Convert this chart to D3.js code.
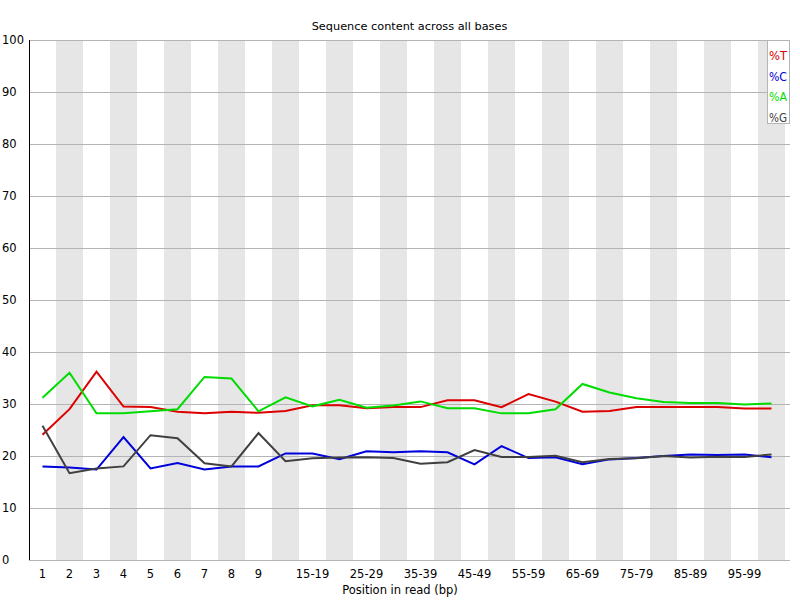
<!DOCTYPE html>
<html>
<head>
<meta charset="utf-8">
<script src="https://cdn.jsdelivr.net/npm/d3@7"></script>
<style>
  body { margin: 0; background: #fff; }
  svg { display: block; font-family: "DejaVu Sans", sans-serif; }
</style>
</head>
<body>
<svg id="chart" width="800" height="600"></svg>
<script>
const positions = ['1', '2', '3', '4', '5', '6', '7', '8', '9',
  '10-14', '15-19', '20-24', '25-29', '30-34', '35-39', '40-44', '45-49',
  '50-54', '55-59', '60-64', '65-69', '70-74', '75-79', '80-84', '85-89',
  '90-94', '95-99', '100-101']

const pctT = [24.1, 29.0, 36.2, 29.5, 29.4, 28.5, 28.2, 28.5, 28.3, 28.65,
  29.75, 29.75, 29.2, 29.4, 29.4, 30.7, 30.7, 29.4, 31.9, 30.45,
  28.5, 28.65, 29.4, 29.4, 29.4, 29.4, 29.15, 29.15]
const pctC = [18.0, 17.8, 17.4, 23.65, 17.6, 18.65, 17.4, 18.0, 18.0, 20.5,
  20.5, 19.4, 20.9, 20.7, 20.9, 20.7, 18.4, 21.9, 19.6, 19.75,
  18.4, 19.35, 19.6, 20.0, 20.3, 20.2, 20.3, 19.75]
const pctA = [31.2, 36.0, 28.2, 28.2, 28.6, 29.0, 35.2, 34.9, 28.6, 31.3,
  29.55, 30.8, 29.3, 29.7, 30.5, 29.2, 29.2, 28.2, 28.2, 29.0,
  33.85, 32.2, 31.1, 30.4, 30.2, 30.2, 29.9, 30.1]
const pctG = [25.8, 16.7, 17.6, 18.0, 24.0, 23.4, 18.6, 18.0, 24.4, 19.0,
  19.55, 19.7, 19.75, 19.6, 18.5, 18.8, 21.15, 19.8, 19.8, 20.05,
  18.8, 19.4, 19.55, 20.0, 19.7, 19.85, 19.8, 20.3]

const yTicks = [0, 10, 20, 30, 40, 50, 60, 70, 80, 90, 100]

const series = [
  { name: '%T', values: pctT, color: 'rgb(220,0,0)' },
  { name: '%C', values: pctC, color: 'rgb(0,0,220)' },
  { name: '%A', values: pctA, color: 'rgb(0,220,0)' },
  { name: '%G', values: pctG, color: 'rgb(64,64,64)' }
]

const svg = d3.select('#chart')
const width = 800
const plotLeft = 29
const plotTop = 40
const plotBottom = 560
const colW = 27

const x = d3.scaleBand()
  .domain(positions)
  .range([plotLeft, plotLeft + colW * positions.length])
  .padding(0)

const y = d3.scaleLinear()
  .domain([0, 100])
  .range([plotBottom, plotTop])

// alternating stripes
svg.append('g')
  .selectAll('rect')
  .data(positions.filter((d, i) => i % 2 === 1))
  .enter()
  .append('rect')
  .attr('x', d => x(d))
  .attr('y', plotTop)
  .attr('width', x.bandwidth())
  .attr('height', plotBottom - plotTop)
  .attr('fill', 'rgb(230,230,230)')

// grid lines
svg.append('g')
  .selectAll('line')
  .data(yTicks)
  .enter()
  .append('line')
  .attr('x1', plotLeft)
  .attr('x2', width - 10)
  .attr('y1', d => y(d) + 0.5)
  .attr('y2', d => y(d) + 0.5)
  .attr('stroke', 'rgb(180,180,180)')
  .attr('stroke-width', 1)

// y axis labels
const yAxis = d3.axisLeft(y).tickValues(yTicks).tickSize(0)
const yg = svg.append('g')
  .attr('transform', `translate(${plotLeft},0)`)
  .call(yAxis)
yg.select('.domain').remove()
yg.selectAll('text')
  .attr('x', 2 - plotLeft)
  .attr('text-anchor', 'start')
  .attr('font-size', 11.5)
  .attr('font-family', 'DejaVu Sans, sans-serif')
  .attr('fill', '#000')

svg.append('line')
  .attr('x1', plotLeft + 0.5).attr('x2', plotLeft + 0.5)
  .attr('y1', plotTop).attr('y2', plotBottom)
  .attr('stroke', '#000')

// x axis labels: single bases always, grouped ones every other
const xAxis = d3.axisBottom(x).tickSize(0)
  .tickFormat((d, i) => (i < 9 || (i - 9) % 2 === 1) ? d : '')
const xg = svg.append('g')
  .attr('transform', `translate(0,${plotBottom})`)
  .call(xAxis)
xg.select('.domain').remove()
xg.selectAll('text')
  .attr('y', 10)
  .attr('font-size', 11.5)
  .attr('font-family', 'DejaVu Sans, sans-serif')
  .attr('fill', '#000')

// title and axis label
svg.append('text')
  .attr('x', plotLeft + (width - plotLeft - 10) / 2)
  .attr('y', 30)
  .attr('text-anchor', 'middle')
  .attr('font-size', 11.3)
  .text('Sequence content across all bases')

svg.append('text')
  .attr('x', width / 2)
  .attr('y', 594)
  .attr('text-anchor', 'middle')
  .attr('font-size', 11.5)
  .text('Position in read (bp)')

// lines
const line = d3.line()
  .x((d, i) => x(positions[i]) + x.bandwidth() / 2)
  .y(d => y(d))

svg.append('g')
  .selectAll('path')
  .data(series)
  .enter()
  .append('path')
  .attr('d', d => line(d.values))
  .attr('fill', 'none')
  .attr('stroke', d => d.color)
  .attr('stroke-width', 2)

// legend
const legend = svg.append('g')
legend.append('rect')
  .attr('x', 767.5)
  .attr('y', 40.5)
  .attr('width', 22)
  .attr('height', 83)
  .attr('fill', '#fff')
  .attr('stroke', 'rgb(180,180,180)')

legend.selectAll('text')
  .data(series)
  .enter()
  .append('text')
  .attr('x', 769)
  .attr('y', (d, i) => 60 + i * 20.5)
  .attr('font-size', 11.5)
  .attr('textLength', 18)
  .attr('lengthAdjust', 'spacingAndGlyphs')
  .attr('fill', d => d.color)
  .text(d => d.name)
</script>
</body>
</html>
